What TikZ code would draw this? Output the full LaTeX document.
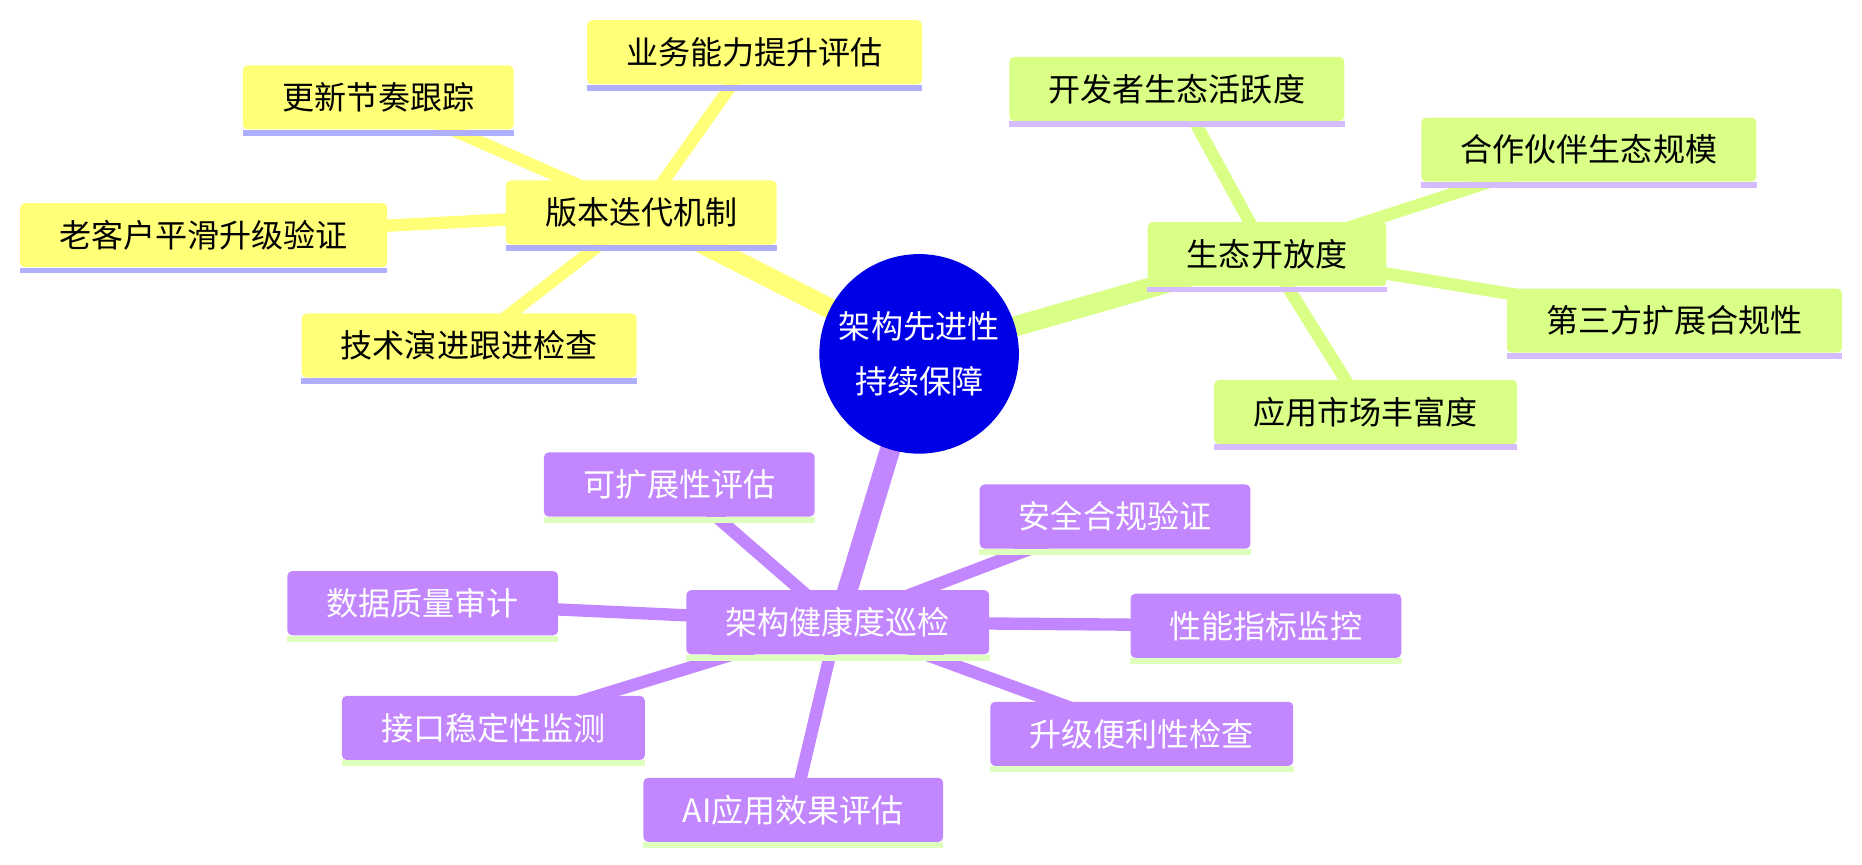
\documentclass[tikz,border=0pt]{standalone}
\usepackage{fontspec}
\setmainfont{Noto Sans CJK SC}
\definecolor{yel}{RGB}{255,255,120}
\definecolor{yelline}{RGB}{175,175,255}
\definecolor{grn}{RGB}{217,255,134}
\definecolor{grnline}{RGB}{212,188,255}
\definecolor{pur}{RGB}{194,134,255}
\definecolor{purline}{RGB}{222,255,190}
\definecolor{rootblue}{RGB}{0,0,230}
\pgfdeclarelayer{bg}
\pgfsetlayers{bg,main}
\tikzset{
  mm/.style={rounded corners=0.1cm, minimum height=1.35cm, inner xsep=0.825cm, inner ysep=0pt, font=\fontsize{19.2}{23}\selectfont},
  ynode/.style={mm, fill=yel, text=black},
  gnode/.style={mm, fill=grn, text=black},
  pnode/.style={mm, fill=pur, text=white},
  rootnode/.style={circle, fill=rootblue, text=white, minimum size=4.2cm, inner sep=0pt, align=center, font=\fontsize{19.2}{33}\selectfont},
  rootedge/.style={line width=0.425cm},
  leafedge/.style={line width=0.26cm},
  stripeline/.style={line width=0.125cm}
}
\newcommand\mystripe[2]{\draw[stripeline,#2] ([yshift=-0.0625cm]#1.south west) -- ([yshift=-0.0625cm]#1.south east);}
\begin{document}
\begin{tikzpicture}[x=0.025cm,y=-0.025cm]
\useasboundingbox (0,0) rectangle (1568,728);
% root
\node[rootnode] (root) at (774,298) {架构先进性\\持续保障};
% yellow
\node[ynode] (B0) at (540,179) {版本迭代机制};
\node[ynode] (Y1) at (635.5,44) {业务能力提升评估};
\node[ynode] (Y2) at (318.5,82) {更新节奏跟踪};
\node[ynode] (Y3) at (171.5,198) {老客户平滑升级验证};
\node[ynode] (Y4) at (395,291) {技术演进跟进检查};
% green
\node[gnode] (G0) at (1067,214) {生态开放度};
\node[gnode] (G1) at (991,75) {开发者生态活跃度};
\node[gnode] (G2) at (1338,126) {合作伙伴生态规模};
\node[gnode] (G3) at (1410,270) {第三方扩展合规性};
\node[gnode] (G4) at (1150,347) {应用市场丰富度};
% purple
\node[pnode] (P0) at (705.5,524) {架构健康度巡检};
\node[pnode] (P1) at (572,408) {可扩展性评估};
\node[pnode] (P2) at (939,435) {安全合规验证};
\node[pnode] (P3) at (356,508) {数据质量审计};
\node[pnode] (P4) at (1066,527) {性能指标监控};
\node[pnode] (P5) at (415.5,613) {接口稳定性监测};
\node[pnode] (P6) at (961.5,618) {升级便利性检查};
\node[pnode] (P7) at (668,682) {AI应用效果评估};
% stripes
\foreach \n in {B0,Y1,Y2,Y3,Y4} {\mystripe{\n}{yelline}}
\foreach \n in {G0,G1,G2,G3,G4} {\mystripe{\n}{grnline}}
\foreach \n in {P0,P1,P2,P3,P4,P5,P6,P7} {\mystripe{\n}{purline}}
% edges
\begin{pgfonlayer}{bg}
\draw[rootedge,yel] (root.center) -- (B0.center);
\draw[rootedge,grn] (root.center) -- (G0.center);
\draw[rootedge,pur] (root.center) -- (P0.center);
\foreach \n in {Y1,Y2,Y3,Y4} {\draw[leafedge,yel] (B0.center) -- (\n.center);}
\foreach \n in {G1,G2,G3,G4} {\draw[leafedge,grn] (G0.center) -- (\n.center);}
\foreach \n in {P1,P2,P3,P4,P5,P6,P7} {\draw[leafedge,pur] (P0.center) -- (\n.center);}
\end{pgfonlayer}
\end{tikzpicture}
\end{document}
